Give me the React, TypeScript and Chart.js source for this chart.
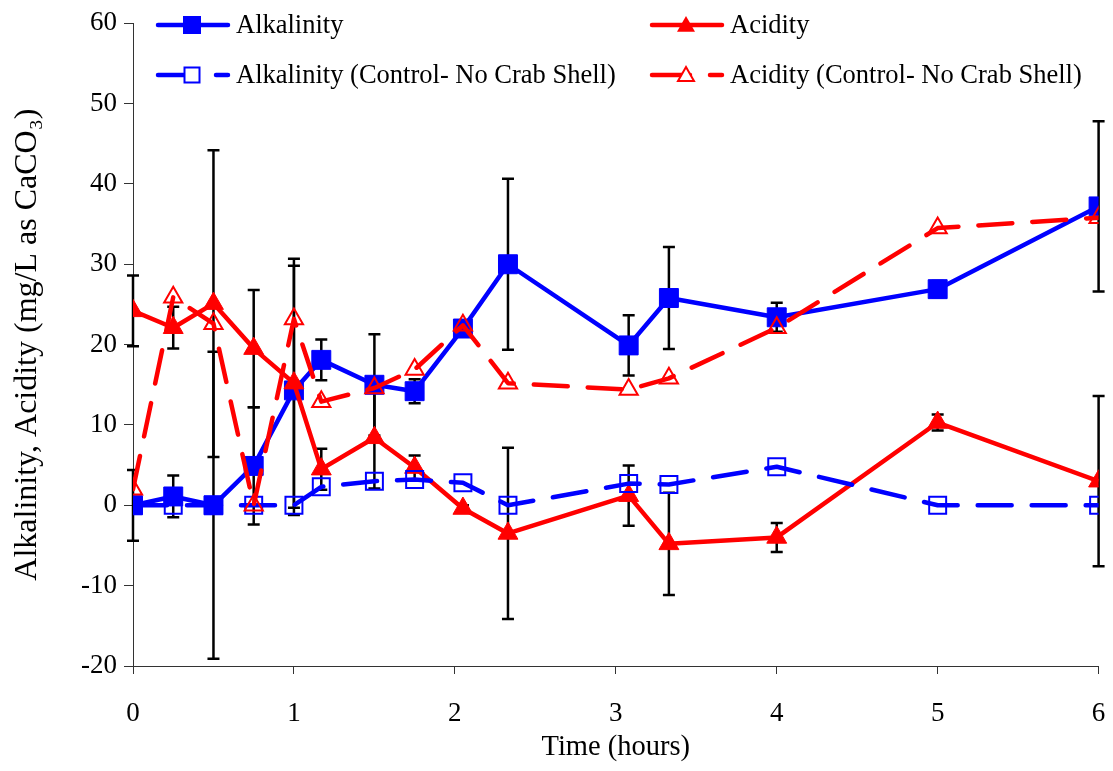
import React, { useEffect, useRef } from "react";
import { Chart, registerables } from "chart.js";

Chart.register(...registerables);

// ---------- data ----------
const timeHours = [0, 0.25, 0.5, 0.75, 1.0, 1.17, 1.5, 1.75, 2.05, 2.33, 3.08, 3.33, 4, 5, 6];
const alkalinity = [0, 1.1, 0, 4.9, 14.3, 18.1, 15.0, 14.2, 22.0, 30.0, 19.9, 25.8, 23.4, 26.9, 37.2];
const alkalinityErr = [4.4, 2.6, 19.1, 7.3, 15.5, 2.55, 6.3, 1.5, 0.4, 10.65, 3.75, 6.35, 1.8, 1.0, 10.6];
const acidity = [24.2, 22.1, 25.1, 19.5, 15.2, 4.5, 8.4, 4.7, -0.4, -3.5, 1.2, -4.8, -4.0, 10.3, 3.0];
const acidityErr = [4.4, 2.6, 19.1, 7.3, 15.5, 2.55, 6.3, 1.5, 0.4, 10.65, 3.75, 6.35, 1.8, 1.0, 10.6];
const alkalinityControl = [0, 0, 0, 0, 0, 2.3, 3.0, 3.2, 2.8, 0, 2.7, 2.6, 4.8, 0, 0];
const acidityControl = [2.0, 25.9, 22.6, 0, 23.2, 12.9, 14.6, 16.9, 22.4, 15.2, 14.4, 15.8, 22.1, 34.5, 35.8];

const xTicks = [0, 1, 2, 3, 4, 5, 6];
const yTicks = [-20, -10, 0, 10, 20, 30, 40, 50, 60];

const seriesLabels = [
  "Alkalinity",
  "Acidity",
  "Alkalinity (Control- No Crab Shell)",
  "Acidity (Control- No Crab Shell)",
];
const xTitle = "Time (hours)";
const yTitle = "Alkalinity, Acidity (mg/L as CaCO\u2083)";

// ---------- styles ----------
const BLUE = "#0000FF";
const RED = "#FF0000";
const AXIS = "#333333";
const FONT = "'Liberation Serif', 'Times New Roman', serif";
const DASH = [34, 20];

const toPoints = (ys: number[]) => timeHours.map((x, i) => ({ x, y: ys[i] }));

const errorBarPlugin = {
  id: "errorBars",
  beforeDatasetsDraw(chart: any) {
    const ctx = chart.ctx;
    const xs = chart.scales.x;
    const ys = chart.scales.y;
    ctx.save();
    ctx.strokeStyle = "#000";
    ctx.lineWidth = 2.5;
    ctx.lineCap = "butt";
    chart.data.datasets.forEach((ds: any) => {
      if (!ds.errors) return;
      ds.data.forEach((p: any, i: number) => {
        const e = ds.errors[i];
        if (!e) return;
        const x = xs.getPixelForValue(p.x);
        const y1 = ys.getPixelForValue(p.y + e);
        const y2 = ys.getPixelForValue(p.y - e);
        ctx.beginPath();
        ctx.moveTo(x, y1);
        ctx.lineTo(x, y2);
        ctx.moveTo(x - 6, y1);
        ctx.lineTo(x + 6, y1);
        ctx.moveTo(x - 6, y2);
        ctx.lineTo(x + 6, y2);
        ctx.stroke();
      });
    });
    ctx.restore();
  },
};

function drawMarker(ctx: CanvasRenderingContext2D, kind: string, filled: boolean, color: string, x: number, y: number) {
  ctx.save();
  ctx.fillStyle = color;
  ctx.strokeStyle = color;
  ctx.lineWidth = 2;
  ctx.setLineDash([]);
  ctx.beginPath();
  if (kind === "square") {
    const s = filled ? 9 : 7.5;
    ctx.rect(x - s, y - s, 2 * s, 2 * s);
  } else {
    const w = filled ? 9 : 8;
    ctx.moveTo(x, y - w);
    ctx.lineTo(x + w, y + w * 0.75);
    ctx.lineTo(x - w, y + w * 0.75);
    ctx.closePath();
  }
  if (filled) {
    ctx.fill();
  } else {
    ctx.fillStyle = "#fff";
    ctx.fill();
    ctx.stroke();
  }
  ctx.restore();
}

const legendPlugin = {
  id: "customLegend",
  afterDraw(chart: any) {
    const ctx: CanvasRenderingContext2D = chart.ctx;
    const items = [
      { label: seriesLabels[0], color: BLUE, kind: "square", filled: true, x: 158, y: 25 },
      { label: seriesLabels[1], color: RED, kind: "triangle", filled: true, x: 652, y: 25 },
      { label: seriesLabels[2], color: BLUE, kind: "square", filled: false, x: 158, y: 75 },
      { label: seriesLabels[3], color: RED, kind: "triangle", filled: false, x: 652, y: 75 },
    ];
    ctx.save();
    items.forEach((it) => {
      ctx.strokeStyle = it.color;
      ctx.lineWidth = 4.5;
      ctx.lineCap = "round";
      ctx.beginPath();
      if (it.filled) {
        ctx.moveTo(it.x, it.y);
        ctx.lineTo(it.x + 70, it.y);
      } else {
        ctx.moveTo(it.x, it.y);
        ctx.lineTo(it.x + 38, it.y);
        ctx.moveTo(it.x + 58, it.y);
        ctx.lineTo(it.x + 70, it.y);
      }
      ctx.stroke();
      drawMarker(ctx, it.kind, it.filled, it.color, it.x + 34, it.y);
      ctx.fillStyle = "#000";
      ctx.font = `26.5px ${FONT}`;
      ctx.textBaseline = "middle";
      ctx.textAlign = "left";
      ctx.fillText(it.label, it.x + 78, it.y + 1);
    });
    ctx.restore();
  },
};

export default function App() {
  const canvasRef = useRef<HTMLCanvasElement | null>(null);

  useEffect(() => {
    if (!canvasRef.current) return;
    document.body.style.margin = "0";
    const chart = new Chart(canvasRef.current, {
      type: "line",
      data: {
        datasets: [
          {
            label: seriesLabels[3],
            data: toPoints(acidityControl),
            borderColor: RED,
            borderWidth: 4.5,
            borderDash: DASH,
            borderCapStyle: "round",
            borderJoinStyle: "round",
            pointStyle: "triangle",
            pointRadius: 10.5,
            pointBackgroundColor: "rgba(255,255,255,0)",
            pointBorderColor: RED,
            pointBorderWidth: 2,
            fill: false,
            tension: 0,
          },
          {
            label: seriesLabels[2],
            data: toPoints(alkalinityControl),
            borderColor: BLUE,
            borderWidth: 4.5,
            borderDash: DASH,
            borderCapStyle: "round",
            borderJoinStyle: "round",
            pointStyle: "rect",
            pointRadius: 12,
            pointBackgroundColor: "rgba(255,255,255,0)",
            pointBorderColor: BLUE,
            pointBorderWidth: 2,
            fill: false,
            tension: 0,
          },
          {
            label: seriesLabels[1],
            data: toPoints(acidity),
            errors: acidityErr,
            borderColor: RED,
            borderWidth: 4.5,
            borderJoinStyle: "round",
            pointStyle: "triangle",
            pointRadius: 11.5,
            pointBackgroundColor: RED,
            pointBorderColor: RED,
            pointBorderWidth: 1,
            fill: false,
            tension: 0,
          },
          {
            label: seriesLabels[0],
            data: toPoints(alkalinity),
            errors: alkalinityErr,
            borderColor: BLUE,
            borderWidth: 4.5,
            borderJoinStyle: "round",
            pointStyle: "rect",
            pointRadius: 13.4,
            pointBackgroundColor: BLUE,
            pointBorderColor: BLUE,
            pointBorderWidth: 1,
            fill: false,
            tension: 0,
          },
        ] as any,
      },
      options: {
        animation: false,
        responsive: false,
        maintainAspectRatio: false,
        layout: { padding: { top: 20, right: 13, left: 0, bottom: 0 } },
        plugins: {
          legend: { display: false },
          tooltip: { enabled: false },
        },
        scales: {
          x: {
            type: "linear",
            min: 0,
            max: 6,
            afterFit: (s: any) => {
              s.height = 105;
              s.paddingLeft = 0;
              s.paddingRight = 0;
            },
            afterBuildTicks: (s: any) => {
              s.ticks = xTicks.map((v) => ({ value: v }));
            },
            grid: { drawOnChartArea: false, drawTicks: true, tickLength: 8, color: AXIS, tickColor: AXIS },
            border: { display: true, color: AXIS, width: 1 },
            ticks: {
              color: "#000",
              font: { family: FONT, size: 27 },
              padding: 24,
              maxRotation: 0,
              callback: (v: any) => String(v),
            },
            title: {
              display: true,
              text: xTitle,
              color: "#000",
              font: { family: FONT, size: 28.5 },
              padding: { top: 0, bottom: 6 },
            },
          },
          y: {
            type: "linear",
            min: -20,
            max: 60,
            afterFit: (s: any) => {
              s.width = 133;
            },
            afterBuildTicks: (s: any) => {
              s.ticks = yTicks.map((v) => ({ value: v }));
            },
            grid: { drawOnChartArea: false, drawTicks: true, tickLength: 9, color: AXIS, tickColor: AXIS },
            border: { display: true, color: AXIS, width: 1 },
            ticks: {
              color: "#000",
              font: { family: FONT, size: 27 },
              padding: 7,
              callback: (v: any) => String(v),
            },
            title: {
              display: true,
              text: yTitle,
              color: "#000",
              font: { family: FONT, size: 32 },
              padding: { top: 8, bottom: 0 },
            },
          },
        },
      },
      plugins: [errorBarPlugin, legendPlugin],
    } as any);
    return () => chart.destroy();
  }, []);

  return (
    <div style={{ position: "fixed", left: 0, top: 0, width: 1113, height: 771, background: "#fff" }}>
      <canvas ref={canvasRef} width={1113} height={771} style={{ display: "block" }} />
    </div>
  );
}
